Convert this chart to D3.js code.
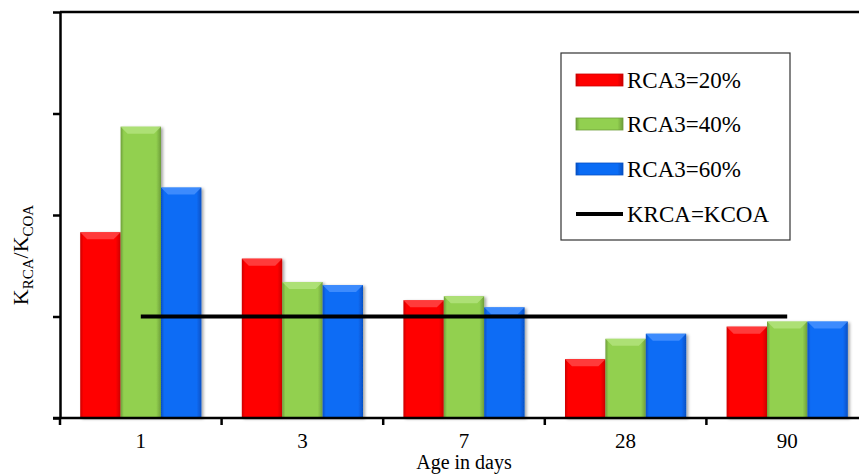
<!DOCTYPE html>
<html><head><meta charset="utf-8">
<script src="https://cdn.jsdelivr.net/npm/d3@7/dist/d3.min.js"></script>
<style>body{margin:0;background:#fff}svg{display:block}</style>
</head><body><svg id="c" width="859" height="476"></svg>
<script>
const categories = ["1","3","7","28","90"];
const seriesNames = ["RCA3=20%","RCA3=40%","RCA3=60%"];
const rca20 = [1.83,1.57,1.16,0.58,0.90];
const rca40 = [2.87,1.34,1.20,0.78,0.95];
const rca60 = [2.27,1.31,1.09,0.83,0.95];
const refValue = 1;
const refName = "KRCA=KCOA";
const yTicks = [0,1,2,3,4];

const series = [rca20, rca40, rca60];
const colors = [
  {main:"#ff0000", edge:"#cc0000", top:"#ff4a4a"},
  {main:"#92d050", edge:"#6e9e3a", top:"#b4e47e"},
  {main:"#0a6cf5", edge:"#0650c4", top:"#4a94ff"}
];

const svg = d3.select("#c");
const pL = 60, pT = 12, pB = 418, pR = 868;
const x = d3.scaleBand().domain(categories).range([pL, pR]).paddingInner(0.25).paddingOuter(0.125);
const xb = d3.scaleBand().domain(categories).range([pL, pR]);
const xs = d3.scaleBand().domain(d3.range(3)).range([0, x.bandwidth()]);
const y = d3.scaleLinear().domain([0,4]).range([pB, pT]);
const serif = "Liberation Serif, Times New Roman, serif";

const defs = svg.append("defs");
colors.forEach((c,i)=>{
  const g = defs.append("linearGradient").attr("id","g"+i).attr("x1","0").attr("x2","1").attr("y1","0").attr("y2","0");
  g.append("stop").attr("offset","0").attr("stop-color",c.edge);
  g.append("stop").attr("offset","0.08").attr("stop-color",c.main);
  g.append("stop").attr("offset","0.88").attr("stop-color",c.main);
  g.append("stop").attr("offset","1").attr("stop-color",c.edge);
});
const f = defs.append("filter").attr("id","sh").attr("x","-20%").attr("y","-20%").attr("width","150%").attr("height","150%");
f.append("feDropShadow").attr("dx",2).attr("dy",1).attr("stdDeviation",1.5).attr("flood-color","#000").attr("flood-opacity",0.35);

// top frame line
svg.append("line").attr("x1",pL).attr("x2",859).attr("y1",y(4)).attr("y2",y(4)).attr("stroke","#000").attr("stroke-width",2.5);

// bars
series.forEach((vals,si)=>{
  const gg = svg.append("g");
  categories.forEach((cat,ci)=>{
    const bx = x(cat)+xs(si), bw = xs.bandwidth(), by = y(vals[ci]), bh = y(0)-y(vals[ci]);
    gg.append("rect").attr("x",bx).attr("y",by).attr("width",bw).attr("height",bh)
      .attr("fill","url(#g"+si+")").attr("filter","url(#sh)");
    const bev = 7;
    gg.append("path").attr("d",`M${bx},${by}L${bx+bw},${by}L${bx+bw-bev},${by+bev}L${bx+bev},${by+bev}Z`)
      .attr("fill",colors[si].top).attr("opacity",0.8);
  });
});

// reference line
svg.append("line")
  .attr("x1", x(categories[0])+x.bandwidth()/2).attr("x2", x(categories[categories.length-1])+x.bandwidth()/2)
  .attr("y1", y(refValue)).attr("y2", y(refValue)).attr("stroke","#000").attr("stroke-width",4);

// y axis
const ya = svg.append("g").attr("transform",`translate(${pL},0)`)
  .call(d3.axisLeft(y).tickValues(yTicks).tickFormat("").tickSize(7).tickSizeOuter(0));
ya.selectAll("path,line").attr("stroke","#000").attr("stroke-width",2.5);

// x axis
const xa = svg.append("g").attr("transform",`translate(0,${pB})`)
  .call(d3.axisBottom(x).tickSize(0).tickPadding(15));
xa.select("path").remove();
xa.selectAll("text").attr("font-family",serif).attr("font-size",21).attr("fill","#000");
svg.append("line").attr("x1",pL-7).attr("x2",859).attr("y1",pB).attr("y2",pB).attr("stroke","#000").attr("stroke-width",2.5);
svg.append("g").selectAll("line").data(categories).join("line")
  .attr("x1",d=>xb(d)).attr("x2",d=>xb(d)).attr("y1",pB).attr("y2",pB+7)
  .attr("stroke","#000").attr("stroke-width",2.5);

// axis titles
svg.append("text").attr("x",(pL+pR)/2).attr("y",469).attr("text-anchor","middle")
  .attr("font-family",serif).attr("font-size",20).text("Age in days");
const yl = svg.append("text").attr("transform","translate(28,255) rotate(-90)").attr("text-anchor","middle")
  .attr("font-family",serif).attr("font-size",22);
yl.append("tspan").text("K");
yl.append("tspan").attr("font-size",15).attr("dy",5).text("RCA");
yl.append("tspan").attr("dy",-5).text("/K");
yl.append("tspan").attr("font-size",15).attr("dy",5).text("COA");

// legend
const lg = svg.append("g");
lg.append("rect").attr("x",561).attr("y",53).attr("width",229).attr("height",187).attr("fill","#fff").attr("stroke","#333").attr("stroke-width",1.2);
const rows = [80,124,169,214];
seriesNames.forEach((n,i)=>{
  lg.append("rect").attr("x",576).attr("y",rows[i]-6).attr("width",47).attr("height",12).attr("fill","url(#g"+i+")").attr("stroke",colors[i].edge).attr("stroke-width",0.8);
  lg.append("text").attr("x",627).attr("y",rows[i]+8).attr("font-family",serif).attr("font-size",23).text(n);
});
lg.append("line").attr("x1",576).attr("x2",623).attr("y1",rows[3]).attr("y2",rows[3]).attr("stroke","#000").attr("stroke-width",4);
lg.append("text").attr("x",627).attr("y",rows[3]+8).attr("font-family",serif).attr("font-size",23).text(refName);
</script></body></html>
